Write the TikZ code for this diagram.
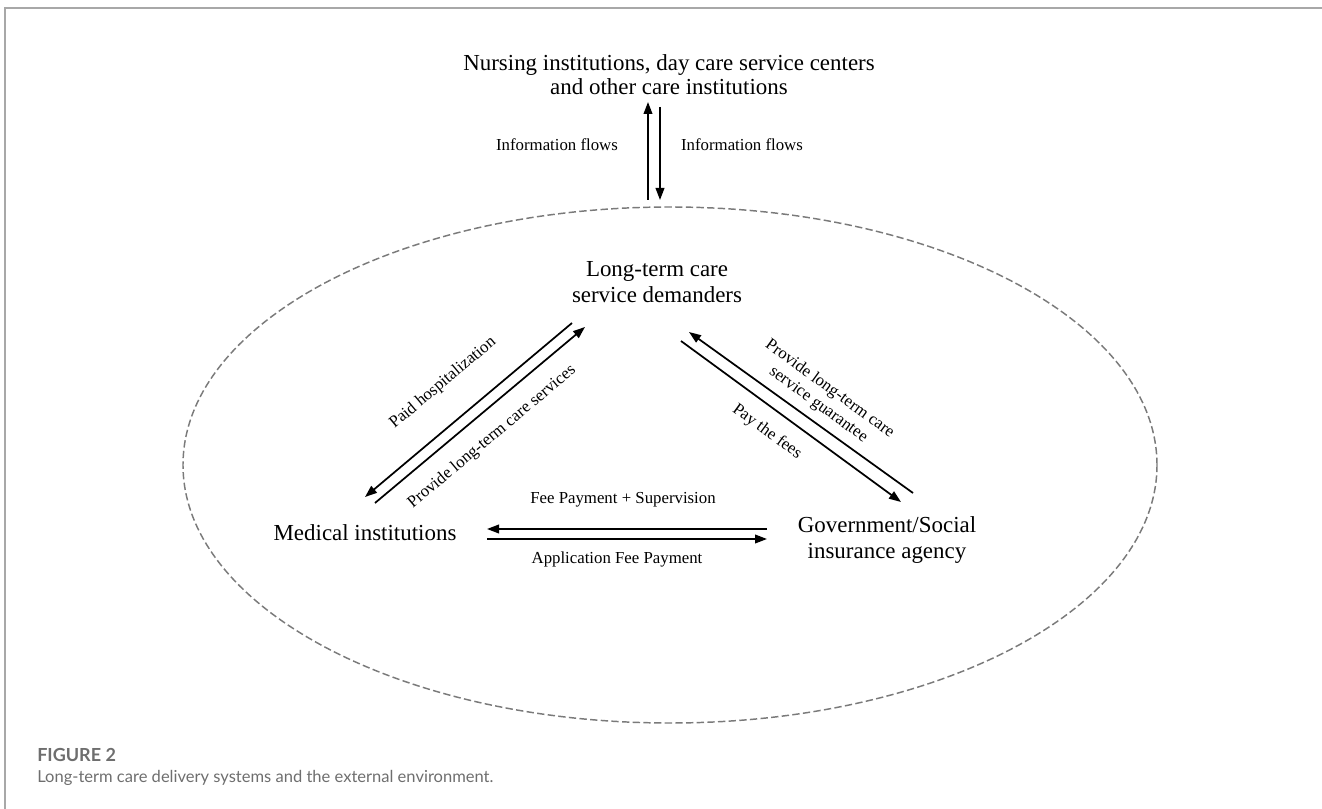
\documentclass[tikz,border=0pt]{standalone}
\usepackage{fontspec}
\setmainfont{Liberation Serif}
\newfontfamily\capfont{Lato}
\usetikzlibrary{arrows.meta,shapes.geometric}
\definecolor{framegray}{HTML}{A8A8A8}
\definecolor{dashgray}{HTML}{7A7A7A}
\definecolor{capgray}{HTML}{6E6E6E}
\tikzset{
  entity/.style={align=center,font=\fontsize{17.2}{19.5}\selectfont,inner sep=0pt},
  flowlbl/.style={font=\fontsize{12.6}{14.5}\selectfont,inner sep=0pt,align=center},
  arr/.style={line width=1.3pt,-{Triangle[length=9pt,width=6.5pt]}},
  envline/.style={draw=dashgray,line width=1.1pt,dash pattern=on 5.5pt off 2.5pt},
  frameline/.style={draw=framegray,line width=1.1pt},
}
\begin{document}
\begin{tikzpicture}[x=0.75pt,y=-0.75pt]
\useasboundingbox (0,0) rectangle (1322,809);
% frame
\coordinate (fbl) at (5,809);
\coordinate (ftl) at (5,8);
\coordinate (ftr) at (1322,8);
\draw[frameline] (fbl) -- (ftl) -- (ftr);
% environment ellipse
\node[ellipse,envline,minimum width=730.5pt,minimum height=387pt,inner sep=0pt] (env) at (670,465) {};
% entities
\node[entity,font=\fontsize{17.2}{17.8}\selectfont] (nurse) at (669,75) {Nursing institutions, day care service centers\\and other care institutions};
\node[entity] (demand) at (657,282) {Long-term care\\service demanders};
\node[entity] (med) at (365,533) {Medical institutions};
\node[entity] (gov) at (887,540) {Government/Social\\insurance agency};
% arrow end points
\coordinate (iu1) at (648,200); \coordinate (iu2) at (648,102);
\coordinate (id1) at (660,107); \coordinate (id2) at (660,200);
\coordinate (ph1) at (572,323); \coordinate (ph2) at (365,497);
\coordinate (pl1) at (375,503); \coordinate (pl2) at (585,327);
\coordinate (pg1) at (913,493); \coordinate (pg2) at (689,332);
\coordinate (pf1) at (681,341); \coordinate (pf2) at (901,502);
\coordinate (fs1) at (767,529); \coordinate (fs2) at (487,529);
\coordinate (af1) at (487,539); \coordinate (af2) at (767,539);
% arrows
\draw[arr] (iu1) -- (iu2);
\draw[arr] (id1) -- (id2);
\draw[arr] (ph1) -- (ph2);
\draw[arr] (pl1) -- (pl2);
\draw[arr] (pg1) -- (pg2);
\draw[arr] (pf1) -- (pf2);
\draw[arr] (fs1) -- (fs2);
\draw[arr] (af1) -- (af2);
% labels
\node[flowlbl] (lif1) at (557,145) {Information flows};
\node[flowlbl] (lif2) at (742,145) {Information flows};
\node[flowlbl,rotate=40] (lph) at (443,383) {Paid hospitalization};
\node[flowlbl,rotate=40] (lpl) at (492,437) {Provide long-term care services};
\node[flowlbl,rotate=-36] (lpg) at (824,397) {Provide long-term care\\service guarantee};
\node[flowlbl,rotate=-36] (lpf) at (767,432) {Pay the fees};
\node[flowlbl] (lfs) at (623,500) {Fee Payment + Supervision};
\node[flowlbl] (laf) at (617,559) {Application Fee Payment};
% caption
\node[anchor=west,inner sep=0pt,text=capgray,font=\capfont\bfseries\fontsize{13.5}{15}\selectfont] (capnum) at (37,755) {FIGURE 2};
\node[anchor=west,inner sep=0pt,text=capgray,font=\capfont\fontsize{12.4}{15}\selectfont] (captxt) at (37,778) {Long-term care delivery systems and the external environment.};
\end{tikzpicture}
\end{document}
